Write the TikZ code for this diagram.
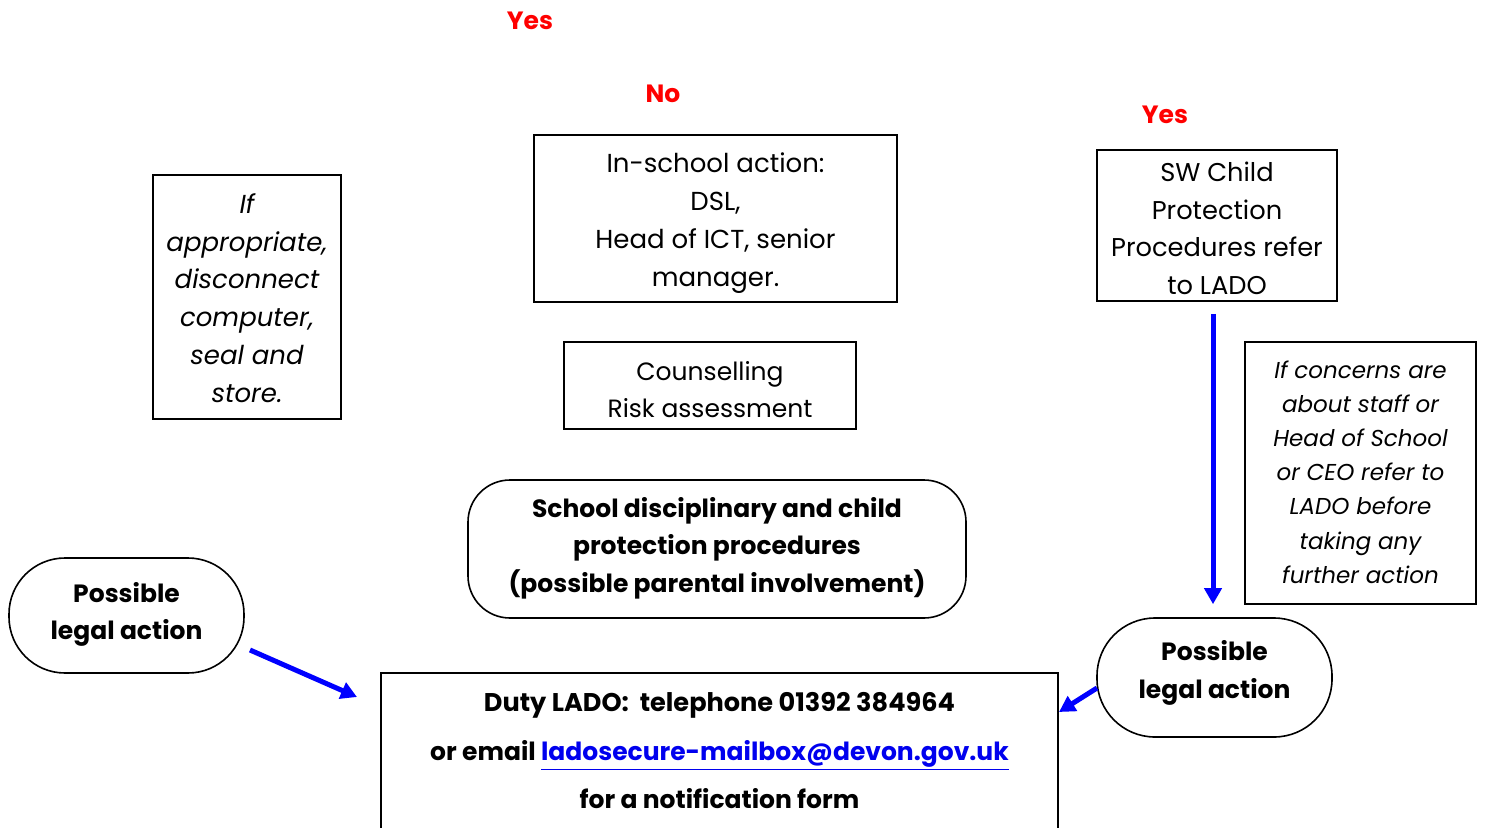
\documentclass[tikz,border=0pt]{standalone}
\usepackage{fontspec}
\setmainfont{Poppins}
\usetikzlibrary{arrows.meta}
\definecolor{linkblue}{RGB}{0,0,238}
\definecolor{arrowblue}{RGB}{0,0,255}
\definecolor{yesred}{RGB}{255,0,0}
\tikzset{
  plainbox/.style={draw=black, line width=1.6pt, rectangle, inner sep=0pt},
  roundbox/.style={draw=black, line width=1.6pt, rectangle, rounded corners=#1, inner sep=0pt},
  boxtext/.style={align=center, inner sep=0pt},
  redlabel/.style={text=yesred, font=\fontsize{25}{30}\selectfont\bfseries, inner sep=0pt},
  bluearrow/.style={draw=arrowblue, line width=5pt, -{Triangle[length=16pt,width=17pt]}},
}
\begin{document}
\begin{tikzpicture}[x=1pt,y=-1pt]
\useasboundingbox (0,0) rectangle (1488,827);
\clip (0,0) rectangle (1488,827);

% red labels
\node[redlabel] (yes1) at (530,21) {Yes};
\node[redlabel] (no1) at (663,94) {No};
\node[redlabel] (yes2) at (1165,115) {Yes};

% left italic box
\node[plainbox, minimum width=188pt, minimum height=244pt] (disc) at (247,297) {};
\node[boxtext, font=\fontsize{26}{37.8}\selectfont\itshape] (disctext) at ([yshift=-1pt]disc.center)
  {If\\appropriate,\\disconnect\\computer,\\seal and\\store.};

% in-school box
\node[plainbox, minimum width=363pt, minimum height=167pt] (inschool) at (715.5,218.5) {};
\node[boxtext, font=\fontsize{26}{38}\selectfont] (inschooltext) at ([yshift=-5pt]inschool.center)
  {In-school action:\\DSL,\\Head of ICT, senior\\manager.};

% counselling
\node[plainbox, minimum width=292pt, minimum height=87pt] (couns) at (710,385.5) {};
\node[boxtext, font=\fontsize{25}{37}\selectfont] (counstext) at ([yshift=-4pt]couns.center)
  {Counselling\\Risk assessment};

% school disciplinary
\node[roundbox=42pt, minimum width=498pt, minimum height=138pt] (school) at (717,549) {};
\node[boxtext, font=\fontsize{25}{37.5}\selectfont\bfseries] (schooltext) at ([yshift=1pt]school.center)
  {School disciplinary and child\\protection procedures\\(possible parental involvement)};

% left legal
\node[roundbox=56pt, minimum width=235pt, minimum height=115pt] (legal1) at (126.5,615.5) {};
\node[boxtext, font=\fontsize{25}{37}\selectfont\bfseries] (legal1text) at ([yshift=1pt]legal1.center)
  {Possible\\legal action};

% SW box
\node[plainbox, minimum width=240pt, minimum height=151pt] (sw) at (1217,225.5) {};
\node[boxtext, font=\fontsize{25.7}{37.5}\selectfont] (swtext) at ([yshift=-3pt]sw.center)
  {SW Child\\Protection\\Procedures refer\\to LADO};

% right italic box
\node[plainbox, minimum width=231pt, minimum height=262pt] (staff) at (1360.5,473) {};
\node[boxtext, font=\fontsize{23}{34.2}\selectfont\itshape] (stafftext) at ([yshift=1pt]staff.center)
  {If concerns are\\about staff or\\Head of School\\or CEO refer to\\LADO before\\taking any\\further action};

% right legal
\node[roundbox=58pt, minimum width=235pt, minimum height=119pt] (legal2) at (1214.5,677.5) {};
\node[boxtext, font=\fontsize{25}{38}\selectfont\bfseries] (legal2text) at ([yshift=5pt]legal2.center)
  {Possible\\legal action};

% bottom LADO box
\node[plainbox, minimum width=677pt, minimum height=156pt] (lado) at (719.5,751) {};
\node[boxtext, font=\fontsize{25}{48.5}\selectfont\bfseries] (ladotext) at ([yshift=0pt]lado.center)
  {\fontsize{25.6}{48.5}\selectfont Duty LADO:\ \ telephone 01392 384964\\or email \textcolor{linkblue}{\underline{ladosecure-mailbox@devon.gov.uk}}\\for a notification form};

% arrows
\coordinate (a1s) at (250,650);
\coordinate (a1e) at (357,697);
\coordinate (a3s) at (1097,688);
\coordinate (a3e) at (1059,712);
\draw[bluearrow, shorten <=12pt, shorten >=13pt]
  ([xshift=-4pt]sw.south) -- ([xshift=-4pt]sw.south |- legal2.north);
\draw[bluearrow] (a1s) -- (a1e);
\draw[bluearrow] (a3s) -- (a3e);
\end{tikzpicture}
\end{document}
